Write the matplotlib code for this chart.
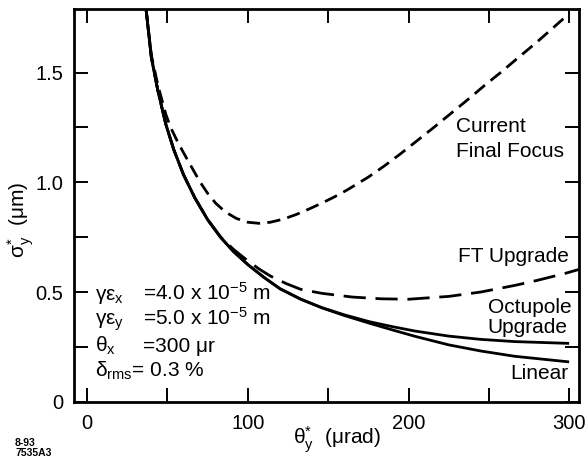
import numpy as np
import matplotlib
matplotlib.use('Agg')
import matplotlib.pyplot as plt

plt.rcParams['font.family'] = ['Liberation Sans', 'DejaVu Sans']
plt.rcParams['mathtext.fontset'] = 'custom'
plt.rcParams['mathtext.rm'] = 'Liberation Sans'
plt.rcParams['mathtext.it'] = 'Liberation Sans'
plt.rcParams['mathtext.bf'] = 'Liberation Sans:bold'

# values (theta_y* in urad, sigma_y* in um)
linear_x = [36.7, 40, 44, 49, 54, 60, 67, 75, 83, 91, 100, 110, 120, 133, 146, 160, 176, 190, 204, 225, 245, 266, 299]
linear_y = [1.79, 1.57, 1.42, 1.265, 1.148, 1.035, 0.93, 0.83, 0.75, 0.685, 0.625, 0.567, 0.515, 0.467, 0.428,
            0.393, 0.357, 0.327, 0.298, 0.259, 0.231, 0.207, 0.182]

octu_x = [36.7, 40, 44, 49, 54, 60, 67, 75, 83, 91, 100, 110, 120, 133, 146, 160, 176, 190, 204, 225, 245, 266, 299]
octu_y = [1.79, 1.57, 1.42, 1.265, 1.148, 1.035, 0.93, 0.83, 0.75, 0.685, 0.625, 0.567, 0.515, 0.467, 0.429,
          0.396, 0.364, 0.342, 0.322, 0.299, 0.284, 0.274, 0.266]

ft_x = [36.7, 40, 44, 49, 54, 60, 67, 75, 83, 91, 100, 107, 114, 124, 133, 146, 165, 183, 200, 225, 245, 266,
        280, 297.5, 306]
ft_y = [1.79, 1.57, 1.42, 1.265, 1.148, 1.035, 0.93, 0.83, 0.752, 0.695, 0.642, 0.605, 0.573, 0.538, 0.512,
        0.494, 0.477, 0.469, 0.467, 0.480, 0.500, 0.530, 0.553, 0.585, 0.603]

cff_x = [36.7, 40, 44, 49, 52, 56, 60, 65, 70, 75, 80, 86, 93, 100, 107, 114, 122, 130, 138, 146, 154, 162,
         175, 185, 195, 205, 216, 226, 237, 247, 258, 268, 279, 290, 300]
cff_y = [1.79, 1.58, 1.445, 1.31, 1.25, 1.19, 1.135, 1.07, 1.005, 0.95, 0.905, 0.865, 0.835, 0.818, 0.813,
         0.818, 0.832, 0.853, 0.878, 0.905, 0.934, 0.966, 1.024, 1.075, 1.13, 1.188, 1.252, 1.312, 1.378,
         1.44, 1.505, 1.567, 1.634, 1.705, 1.77]

xticks = [0, 100, 200, 300]
yticks = [0, 0.5, 1.0, 1.5]
ytick_labels = ['0', '0.5', '1.0', '1.5']

fig = plt.figure(figsize=(5.85, 4.63), dpi=100)
ax = fig.add_axes([74 / 585, 1 - 401.7 / 463, (579 - 74) / 585, (401.7 - 9) / 463])

ax.plot(linear_x, linear_y, 'k-', lw=2.0)
ax.plot(octu_x, octu_y, 'k-', lw=2.0)
ax.plot(ft_x, ft_y, 'k-', lw=2.0, dashes=(8, 3.5))
ax.plot(cff_x, cff_y, 'k-', lw=2.0, dashes=(4.8, 2.6))

ax.set_xlim(-8.1, 306)
ax.set_ylim(0, 1.79)
ax.set_xticks(xticks)
ax.set_xticks([50, 150, 250], minor=True)
ax.set_yticks(yticks)
ax.set_yticklabels(ytick_labels)
ax.set_yticks([0.25, 0.75, 1.25], minor=True)
ax.tick_params(which='both', direction='in', top=True, right=True,
               length=10, width=1.4, labelsize=14.5)
ax.tick_params(axis='x', pad=9)
ax.tick_params(axis='y', pad=8)
for s in ax.spines.values():
    s.set_linewidth(2.0)

# curve labels
ax.text(229.2, 1.231, 'Current', fontsize=15, ha='left', va='baseline')
ax.text(229.2, 1.117, 'Final Focus', fontsize=15, ha='left', va='baseline')
ax.text(299.6, 0.638, 'FT Upgrade', fontsize=15, ha='right', va='baseline')
ax.text(249.2, 0.403, 'Octupole', fontsize=15, ha='left', va='baseline')
ax.text(249.2, 0.312, 'Upgrade', fontsize=15, ha='left', va='baseline')
ax.text(299.6, 0.102, 'Linear', fontsize=15, ha='right', va='baseline')

# beam parameters
ax.text(5.1, 0.463, 'γε$_{x}$', fontsize=15, va='baseline')
ax.text(34.6, 0.463, '=4.0 x 10$^{-5}$ m', fontsize=15, va='baseline')
ax.text(5.1, 0.350, 'γε$_{y}$', fontsize=15, va='baseline')
ax.text(34.6, 0.350, '=5.0 x 10$^{-5}$ m', fontsize=15, va='baseline')
ax.text(5.1, 0.228, 'θ$_{x}$', fontsize=15, va='baseline')
ax.text(34.6, 0.228, '=300 μr', fontsize=15, va='baseline')
ax.text(5.1, 0.114, 'δ$_{rms}$= 0.3 %', fontsize=15, va='baseline')

fig.text(21 / 585, 1 - 220 / 463, 'σ$_{y}^{*}$  (μm)', fontsize=15,
         rotation=90, ha='center', va='center')
fig.text(337 / 585, 1 - 440 / 463, 'θ$_{y}^{*}$  (μrad)', fontsize=15,
         ha='center', va='center')
fig.text(15 / 585, 1 - 448 / 463, '8-93\n7535A3', fontsize=7.5,
         fontweight='bold', ha='left', va='center', linespacing=0.9)

fig.savefig('out.png', dpi=100)
